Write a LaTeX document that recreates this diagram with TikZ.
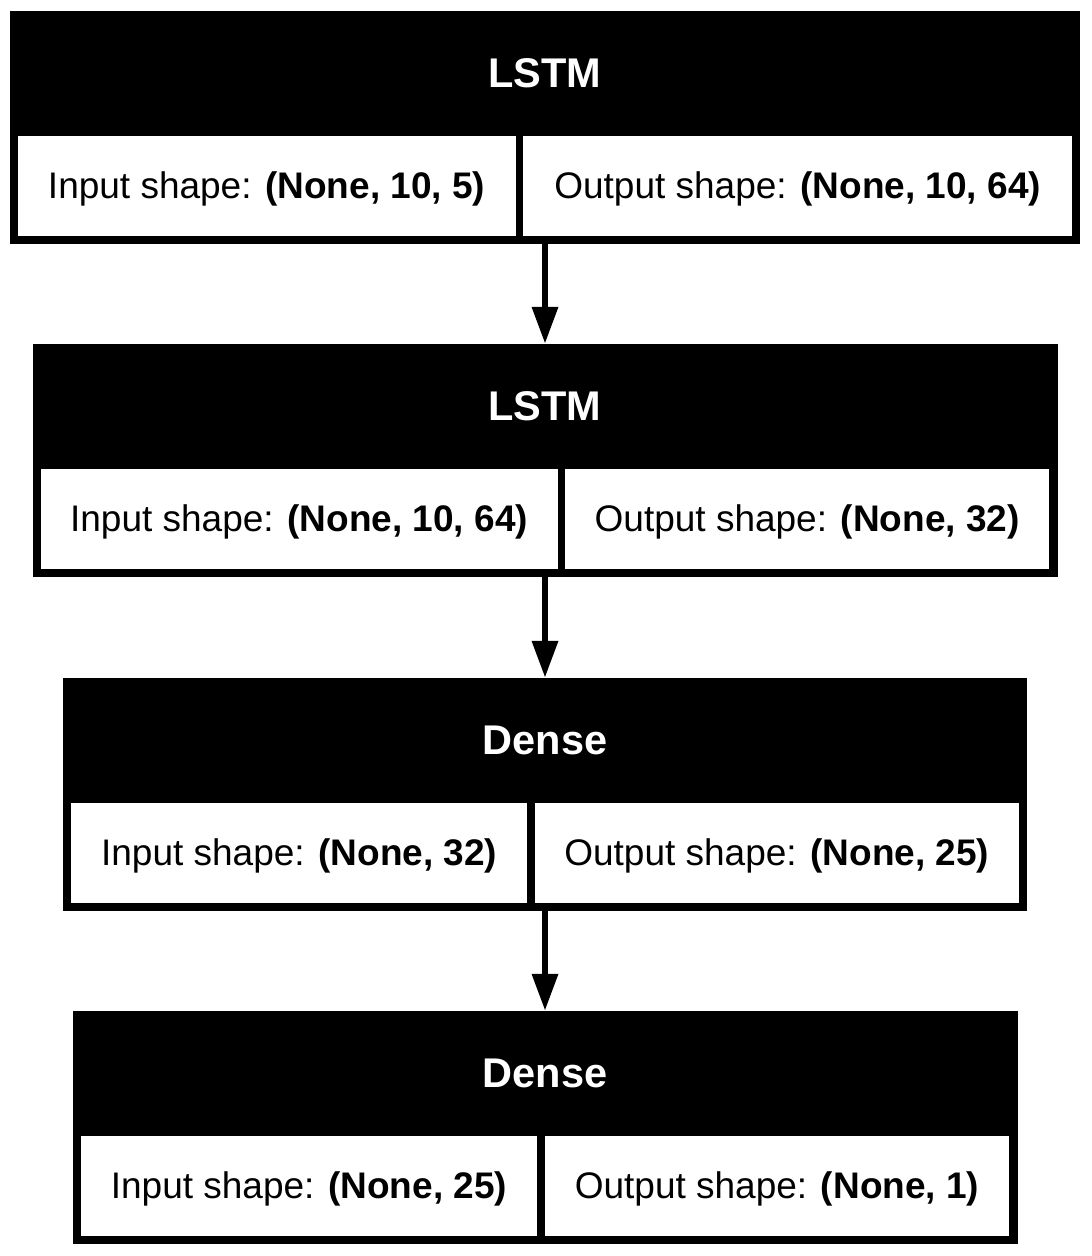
\documentclass[tikz,border=0pt]{standalone}
\usepackage{fontspec}
\setmainfont{Liberation Sans}
\usepackage{tikz}
\usetikzlibrary{arrows.meta,positioning}

\begin{document}
\begin{tikzpicture}[
                x=1pt,y=-1pt,
                layer/.style={fill=black,inner sep=0pt,minimum height=233pt},
                title/.style={text=white,inner sep=0pt,font=\fontsize{41.5}{45}\selectfont\bfseries},
                cell/.style={fill=white,inner sep=0pt,minimum height=100pt,text height=32.6pt,text depth=8pt,font=\fontsize{37}{42}\selectfont},
                flow/.style={-{Triangle[length=37pt,width=25pt]},line width=6.5pt}
            ]
                \useasboundingbox (0,0) rectangle (1092,1256);
                \node[layer,minimum width=1070.8pt] (l1) at (545,127.5) {};
                \node[title] (t1) at (545,73.5) {LSTM};
                \node[cell,anchor=north west,minimum width=497.7pt] (in1) at (17.6,136) {Input shape: \textbf{(None, 10, 5)}};
                \node[cell,anchor=north east,minimum width=549.1pt] (out1) at (1072.4,136) {Output shape: \textbf{(None, 10, 64)}};

                \node[layer,minimum width=1025pt] (l2) at (545,460.5) {};
                \node[title] (t2) at (545,406.5) {LSTM};
                \node[cell,anchor=north west,minimum width=516.8pt] (in2) at (40.5,469) {Input shape: \textbf{(None, 10, 64)}};
                \node[cell,anchor=north east,minimum width=484.2pt] (out2) at (1049.5,469) {Output shape: \textbf{(None, 32)}};

                \node[layer,minimum width=964pt] (l3) at (545,794.5) {};
                \node[title] (t3) at (545,740.5) {Dense};
                \node[cell,anchor=north west,minimum width=456pt] (in3) at (71,803) {Input shape: \textbf{(None, 32)}};
                \node[cell,anchor=north east,minimum width=484pt] (out3) at (1019,803) {Output shape: \textbf{(None, 25)}};

                \node[layer,minimum width=945pt] (l4) at (545,1127.5) {};
                \node[title] (t4) at (545,1073.5) {Dense};
                \node[cell,anchor=north west,minimum width=456.5pt] (in4) at (80.5,1136) {Input shape: \textbf{(None, 25)}};
                \node[cell,anchor=north east,minimum width=464.5pt] (out4) at (1009.5,1136) {Output shape: \textbf{(None, 1)}};

                \draw[flow] (l1.south) -- (l2.north);
                \draw[flow] (l2.south) -- (l3.north);
                \draw[flow] (l3.south) -- (l4.north);
            \end{tikzpicture}
\end{document}
